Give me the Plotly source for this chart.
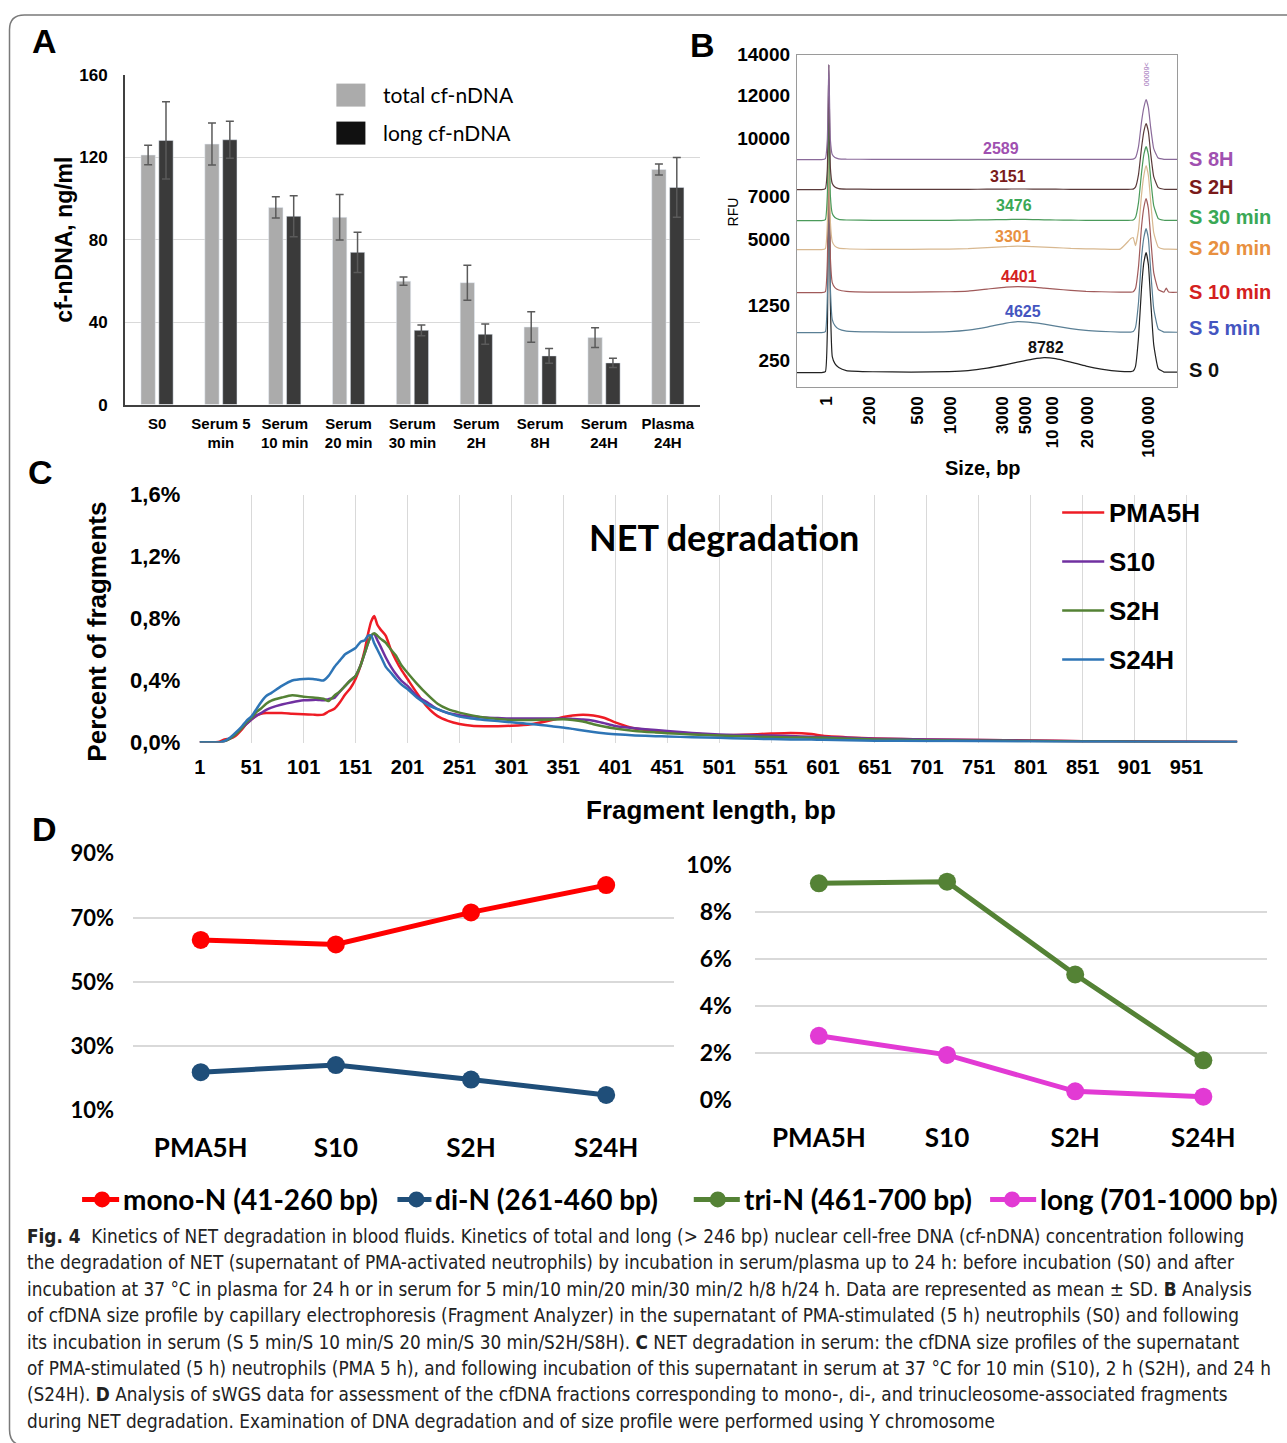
import plotly.graph_objects as go

W, H = 1287, 1443

ARIAL = "Liberation Sans, Arial, sans-serif"
CALIBRI = "Lato, Carlito, Calibri, sans-serif"
NARROW = "Liberation Sans Narrow, Arial Narrow, DejaVu Sans Condensed, sans-serif"

# page placement correction (layout pixel -> displayed pixel is  a * p + b)
X_SCALE, X_SHIFT = 0.995, 6.0
Y_SCALE, Y_SHIFT = 0.9814, 14.4


def lay_x(x):
    return (x - X_SHIFT) / X_SCALE


def lay_y(y):
    return (y - Y_SHIFT) / Y_SCALE


def px_x(x):
    return lay_x(x) / W


def px_y(y):
    return 1 - lay_y(y) / H


def dom_x(a, b):
    return [px_x(a), px_x(b)]


def dom_y(top, bottom):
    return [px_y(bottom), px_y(top)]


# ---------------- Panel A: cf-nDNA concentrations ----------------
a_categories = ["S0", "Serum 5<br>min", "Serum<br>10 min", "Serum<br>20 min", "Serum<br>30 min",
                "Serum<br>2H", "Serum<br>8H", "Serum<br>24H", "Plasma<br>24H"]
a_total = [121.0, 126.3, 95.6, 90.8, 59.8, 59.1, 37.6, 32.5, 114.0]
a_total_sd = [4.7, 10.2, 5.2, 11.0, 2.0, 8.5, 7.4, 4.8, 2.7]
a_long = [128.1, 128.4, 91.3, 73.8, 36.0, 34.1, 23.6, 20.2, 105.3]
a_long_sd = [18.7, 9.0, 9.9, 9.8, 2.6, 4.9, 3.6, 2.2, 14.5]
a_series = ["total cf-nDNA", "long cf-nDNA"]
a_ticks = [0, 40, 80, 120, 160]

# ---------------- Panel B: capillary electrophoresis traces ----------------
b_tick_pos = [7.9, 19.2, 31.8, 40.3, 54.0, 60.0, 67.1, 76.3, 92.4]
b_tick_text = ["1", "200", "500", "1000", "3000", "5000", "10 000", "20 000", "100 000"]
b_rfu_pos = [26, 81, 147, 190, 248, 291, 332]
b_rfu_text = ["250", "1250", "5000", "7000", "10000", "12000", "14000"]
b_pos = [0, 6.5, 7.5, 8.0, 8.4, 8.8, 9.3, 10, 11, 13, 20, 30, 40, 45, 50, 55, 58, 62, 65, 68, 72,
         76, 80, 85, 87.8, 88.4, 89.0, 89.8, 90.6, 91.2, 91.8, 92.4, 93.0, 93.8, 95, 96.5, 97.1,
         97.7, 100]
b_names = ["S 0", "S 5 min", "S 10 min", "S 20 min", "S 30 min", "S 2H", "S 8H"]
b_offset = [14, 54, 94, 137, 166, 197, 227]
b_signal = [
    [0, 0, 1, 40, 230, 70, 16, 9, 5, 2, 0.8, 0.5, 1, 2, 4.5, 8, 10.5, 13.5, 15, 14, 10.5, 6.5, 3.5,
     1.2, 1, 1.5, 6, 35, 85, 110, 120, 108, 72, 28, 4, 0.5, 0.5, 0.5, 0.5],
    [0, 0, 1, 35, 165, 45, 13, 7, 3.5, 1.5, 0.6, 0.5, 1, 2.5, 5.5, 9.5, 11, 10, 8.5, 6.5, 4, 2.2,
     1.2, 0.5, 0.5, 1, 5, 30, 75, 95, 104, 94, 62, 24, 3.5, 0.5, 0.5, 0.5, 0.3],
    [0, 0, 1, 30, 130, 35, 10, 5, 2.5, 1.2, 0.5, 0.5, 0.8, 1.5, 3.5, 5.5, 6, 5.5, 4.5, 3.5, 2.2,
     1.2, 0.8, 0.4, 0.4, 0.8, 4, 26, 66, 85, 94, 84, 55, 20, 3, 0.5, 4.5, 0.5, 0.3],
    [0, 0, 1, 25, 105, 28, 8, 3.5, 1.5, 0.8, 0.3, 0.3, 0.5, 1, 2, 3, 3.5, 3, 2.5, 2, 1.2, 0.8, 0.5,
     0.5, 11, 12, 4, 20, 55, 74, 84, 74, 48, 17, 2.5, 0.5, 0.5, 0.5, 0.3],
    [0, 0, 1, 25, 110, 25, 7, 3, 1.2, 0.6, 0.3, 0.3, 0.3, 0.5, 0.8, 1, 1.2, 1, 0.8, 0.6, 0.4, 0.3,
     0.3, 0.3, 0.3, 0.5, 3, 18, 48, 66, 74, 66, 42, 15, 2, 0.3, 0.3, 0.3, 0.3],
    [0, 0, 1, 20, 125, 22, 6, 2.5, 1, 0.5, 0.3, 0.3, 0.3, 0.3, 0.4, 0.5, 0.6, 0.5, 0.4, 0.4, 0.3,
     0.3, 0.3, 0.3, 0.3, 0.5, 2.5, 15, 42, 58, 66, 58, 36, 13, 2, 0.3, 0.3, 0.3, 0.3],
    [0, 0, 1, 20, 95, 20, 5, 2, 0.8, 0.4, 0.3, 0.3, 0.3, 0.3, 0.3, 0.3, 0.3, 0.3, 0.3, 0.3, 0.3,
     0.3, 0.3, 0.3, 0.3, 0.5, 2, 13, 38, 52, 60, 52, 32, 11, 1.5, 0.3, 0.3, 0.3, 0.3],
]
b_line_colors = ["#222222", "#5a7f95", "#a05a5a", "#d8b890", "#4a9a5a", "#5a3a3a", "#8a6a9a"]
b_label_colors = ["#111111", "#4455c0", "#d42020", "#e89040", "#3aa856", "#7a1a1a", "#a050b0"]
b_peak_size = ["8782", "4625", "4401", "3301", "3476", "3151", "2589"]
b_peak_x = [65.5, 59.5, 58.4, 56.8, 57.1, 55.5, 53.7]
b_peak_y = [39, 75, 110, 150, 181, 210, 238]
b_name_y = [17, 59, 95, 139, 170, 200, 228]
b_upper_marker = ">60000"

# ---------------- Panel C: fragment size profiles ----------------
c_bp = [1, 10, 20, 25, 30, 35, 41, 46, 51, 56, 60, 65, 70, 80, 90, 101, 110, 115, 120, 125, 131,
        136, 141, 146, 151, 156, 160, 163, 166, 169, 172, 175, 180, 185, 190, 195, 201, 210, 220,
        230, 240, 251, 263, 275, 288, 301, 320, 340, 351, 360, 370, 380, 390, 401, 420, 440, 451,
        475, 501, 525, 551, 570, 590, 601, 625, 651, 700, 751, 801, 851, 901, 951, 1000]
c_names = ["PMA5H", "S10", "S2H", "S24H"]
c_colors = ["#ee1c25", "#7030a0", "#548235", "#2e75b6"]
c_pma5h = [0, 0, 0.005, 0.02, 0.025, 0.04, 0.08, 0.12, 0.15, 0.175, 0.185, 0.19, 0.19, 0.19,
           0.186, 0.182, 0.18, 0.178, 0.18, 0.2, 0.22, 0.26, 0.31, 0.35, 0.41, 0.5, 0.6, 0.7,
           0.78, 0.816, 0.76, 0.73, 0.69, 0.6, 0.53, 0.47, 0.41, 0.32, 0.23, 0.17, 0.14, 0.12,
           0.108, 0.105, 0.105, 0.108, 0.118, 0.145, 0.165, 0.175, 0.18, 0.175, 0.16, 0.13, 0.09,
           0.075, 0.068, 0.058, 0.047, 0.05, 0.058, 0.062, 0.055, 0.043, 0.033, 0.026, 0.02,
           0.017, 0.013, 0.009, 0.006, 0.005, 0.004]
c_s10 = [0, 0, 0, 0.01, 0.025, 0.05, 0.09, 0.12, 0.15, 0.175, 0.19, 0.21, 0.225, 0.245, 0.26,
         0.272, 0.275, 0.275, 0.272, 0.28, 0.29, 0.33, 0.365, 0.4, 0.43, 0.5, 0.58, 0.64, 0.69,
         0.70, 0.66, 0.62, 0.55, 0.49, 0.44, 0.40, 0.365, 0.30, 0.26, 0.215, 0.19, 0.176, 0.168,
         0.161, 0.158, 0.155, 0.155, 0.155, 0.155, 0.152, 0.148, 0.14, 0.125, 0.107, 0.092, 0.08,
         0.075, 0.062, 0.052, 0.048, 0.045, 0.042, 0.037, 0.035, 0.03, 0.025, 0.02, 0.016, 0.012,
         0.008, 0.006, 0.005, 0.004]
c_s2h = [0, 0, 0, 0.01, 0.025, 0.05, 0.09, 0.13, 0.16, 0.2, 0.22, 0.25, 0.27, 0.29, 0.305, 0.296,
         0.29, 0.288, 0.283, 0.268, 0.305, 0.33, 0.365, 0.4, 0.43, 0.5, 0.58, 0.64, 0.69, 0.705,
         0.69, 0.67, 0.645, 0.6, 0.56, 0.5, 0.45, 0.38, 0.31, 0.25, 0.215, 0.193, 0.175, 0.161,
         0.152, 0.146, 0.146, 0.148, 0.15, 0.145, 0.135, 0.118, 0.103, 0.09, 0.075, 0.065, 0.06,
         0.052, 0.045, 0.04, 0.035, 0.033, 0.031, 0.03, 0.025, 0.02, 0.015, 0.012, 0.01, 0.007,
         0.005, 0.004, 0.003]
c_s24h = [0, 0, 0, 0.01, 0.03, 0.06, 0.1, 0.14, 0.17, 0.22, 0.26, 0.3, 0.32, 0.365, 0.40, 0.41,
          0.41, 0.405, 0.40, 0.43, 0.49, 0.53, 0.57, 0.59, 0.61, 0.65, 0.66, 0.69, 0.69, 0.64, 0.6,
          0.56, 0.49, 0.45, 0.41, 0.375, 0.345, 0.29, 0.245, 0.215, 0.19, 0.167, 0.155, 0.146,
          0.138, 0.13, 0.12, 0.105, 0.097, 0.088, 0.078, 0.068, 0.06, 0.054, 0.046, 0.041, 0.039,
          0.034, 0.03, 0.026, 0.022, 0.02, 0.019, 0.018, 0.015, 0.012, 0.01, 0.008, 0.006, 0.005,
          0.004, 0.003, 0.003]
c_series = [c_pma5h, c_s10, c_s2h, c_s24h]
c_xticks = list(range(1, 1000, 50))
c_yticks = [0, 0.4, 0.8, 1.2, 1.6]
c_ytext = ["0,0%", "0,4%", "0,8%", "1,2%", "1,6%"]

# ---------------- Panel D: nucleosome fractions ----------------
d_samples = ["PMA5H", "S10", "S2H", "S24H"]
d_mono = [63.1, 61.7, 71.7, 80.2]
d_di = [21.9, 24.1, 19.6, 14.8]
d_tri = [9.22, 9.29, 5.34, 1.69]
d_long = [2.73, 1.92, 0.37, 0.14]
d_names = ["mono-N (41-260 bp)", "di-N (261-460 bp)", "tri-N (461-700 bp)", "long (701-1000 bp)"]
d_colors = ["#ff0000", "#1f4e79", "#548235", "#e23ad4"]
d_left_ticks = [10, 30, 50, 70, 90]
d_right_ticks = [0, 2, 4, 6, 8, 10]

fig = go.Figure()

# A bars
fig.add_trace(go.Bar(x=a_categories, y=a_total, name=a_series[0], marker_color="#ababab",
                     error_y=dict(type="data", array=a_total_sd, color="#5a5a5a", thickness=1.5, width=4),
                     xaxis="x", yaxis="y", showlegend=False))
fig.add_trace(go.Bar(x=a_categories, y=a_long, name=a_series[1], marker_color="#3a3a3a",
                     error_y=dict(type="data", array=a_long_sd, color="#5a5a5a", thickness=1.5, width=4),
                     xaxis="x", yaxis="y", showlegend=False))

# B traces, stacked by offset
for name, off, sig, col in zip(b_names, b_offset, b_signal, b_line_colors):
    fig.add_trace(go.Scatter(x=b_pos, y=[off + v for v in sig], mode="lines", name=name,
                             line=dict(color=col, width=1.2, shape="spline", smoothing=0.4),
                             xaxis="x2", yaxis="y2", showlegend=False))

# C curves
for name, vals, col in zip(c_names, c_series, c_colors):
    fig.add_trace(go.Scatter(x=c_bp, y=vals, mode="lines", name=name,
                             line=dict(color=col, width=2.5, shape="spline", smoothing=0.6),
                             xaxis="x3", yaxis="y3", showlegend=False))

# D lines
for vals, name, col, ax in [(d_mono, d_names[0], d_colors[0], "4"), (d_di, d_names[1], d_colors[1], "4"),
                            (d_tri, d_names[2], d_colors[2], "5"), (d_long, d_names[3], d_colors[3], "5")]:
    fig.add_trace(go.Scatter(x=d_samples, y=vals, mode="lines+markers", name=name,
                             line=dict(color=col, width=5), marker=dict(color=col, size=18),
                             cliponaxis=False, xaxis="x" + ax, yaxis="y" + ax, showlegend=False))

bold_arial = lambda s: dict(family=ARIAL, size=s, color="black", weight="bold")
bold_cal = lambda s: dict(family=CALIBRI, size=s, color="black", weight="bold")

fig.update_layout(
    width=W, height=H, margin=dict(l=0, r=0, t=0, b=0),
    paper_bgcolor="white", plot_bgcolor="rgba(0,0,0,0)",
    barmode="group", bargap=0.44, bargroupgap=0.2,
    xaxis=dict(domain=dom_x(126, 700), anchor="y", type="category", showline=True,
               linecolor="#404040", linewidth=2, showgrid=False, tickfont=bold_arial(15),
               ticklabelstandoff=4, range=[-0.5, 8.5]),
    yaxis=dict(domain=dom_y(75, 405), anchor="x", range=[0, 160], tickvals=a_ticks,
               showgrid=True, gridcolor="#d9d9d9", gridwidth=1, showline=True, linecolor="#404040",
               linewidth=2, zeroline=False, tickfont=bold_arial(17), ticklabelstandoff=12),
    xaxis2=dict(domain=dom_x(797, 1177), anchor="y2", range=[0, 100], tickvals=b_tick_pos,
                ticktext=b_tick_text, tickangle=-90, tickfont=bold_arial(17), showgrid=False,
                zeroline=False, showline=True, mirror=True, linecolor="#9a9a9a", linewidth=1,
                ticklabelstandoff=2),
    yaxis2=dict(domain=dom_y(55, 387), anchor="x2", range=[0, 332], tickvals=b_rfu_pos,
                ticktext=b_rfu_text, tickfont=bold_arial(19), showgrid=False, zeroline=False,
                showline=True, mirror=True, linecolor="#9a9a9a", linewidth=1, ticklabelstandoff=2),
    xaxis3=dict(domain=dom_x(200, 1237), anchor="y3", range=[0.5, 1000], tickvals=c_xticks,
                showgrid=True, gridcolor="#d9d9d9", gridwidth=1, zeroline=False, showline=False,
                tickfont=bold_arial(20), ticklabelstandoff=10),
    yaxis3=dict(domain=dom_y(495, 743), anchor="x3", range=[0, 1.6], tickvals=c_yticks,
                ticktext=c_ytext, showgrid=False, zeroline=False, showline=False,
                tickfont=bold_arial(22), ticklabelstandoff=18),
    xaxis4=dict(domain=dom_x(134, 674), anchor="y4", type="category", range=[-0.5, 3.5],
                showgrid=False, showline=False, zeroline=False, tickfont=bold_cal(26),
                ticklabelstandoff=20),
    yaxis4=dict(domain=dom_y(854, 1111), anchor="x4", range=[9.95, 90.05], tickvals=d_left_ticks,
                ticktext=[f"{v}%" for v in d_left_ticks], showgrid=True, gridcolor="#d9d9d9",
                gridwidth=1.5, zeroline=False, showline=False, tickfont=bold_cal(22),
                ticklabelstandoff=18),
    xaxis5=dict(domain=dom_x(755, 1267), anchor="y5", type="category", range=[-0.5, 3.5],
                showgrid=False, showline=False, zeroline=False, tickfont=bold_cal(26),
                ticklabelstandoff=20),
    yaxis5=dict(domain=dom_y(865, 1101), anchor="x5", range=[-0.02, 10.02], tickvals=d_right_ticks,
                ticktext=[f"{v}%" for v in d_right_ticks], showgrid=True, gridcolor="#d9d9d9",
                gridwidth=1.5, zeroline=False, showline=False, tickfont=bold_cal(23),
                ticklabelstandoff=22),
)

shapes = []
annotations = []


def ann(text, x, y, size, color="black", family=ARIAL, weight="normal", xanchor="center",
        yanchor="middle", angle=0, **kw):
    annotations.append(dict(text=text, x=px_x(x), y=px_y(y), xref="paper", yref="paper",
                            showarrow=False, xanchor=xanchor, yanchor=yanchor, textangle=angle,
                            font=dict(family=family, size=size, color=color, weight=weight), **kw))


# outer rounded frame (top edge kept just inside the canvas)
top = min(px_y(10.5), 1 - 1.0 / H)
left = px_x(10.5)
r = 15.0 / W
rv = 15.0 / H
shapes.append(dict(type="path", xref="paper", yref="paper",
                   path=(f"M 1.01,{top} L {left + r},{top} "
                         f"Q {left},{top} {left},{top - rv} "
                         f"L {left},{px_y(1430)} Q {left},{px_y(1446)} {left + r},{px_y(1446)}"),
                   line=dict(color="#7a7a7a", width=1.5)))

# panel letters
for letter, x, y in [("A", 45, 41), ("B", 703, 45), ("C", 41, 472), ("D", 45, 829)]:
    ann(letter, x, y, 34, weight="bold")

# A legend and title
for i, (name, col) in enumerate(zip(a_series, ["#ababab", "#111111"])):
    ytop = 84 + i * 38
    shapes.append(dict(type="rect", xref="paper", yref="paper", x0=px_x(337), x1=px_x(366),
                       y0=px_y(ytop), y1=px_y(ytop + 23), fillcolor=col, line=dict(width=0)))
    ann(name, 382, ytop + 11, 21, family=CALIBRI, xanchor="left")
ann("cf-nDNA, ng/ml", 65, 240, 23, weight="bold", angle=-90)

# B labels
for name, col, size_txt, px_, py_, ny in zip(b_names, b_label_colors, b_peak_size,
                                             b_peak_x, b_peak_y, b_name_y):
    annotations.append(dict(text=size_txt, x=px_, y=py_, xref="x2", yref="y2", showarrow=False,
                            font=dict(family=ARIAL, size=16, color=col, weight="bold")))
    annotations.append(dict(text=name, x=px_x(1187), y=ny, xref="paper", yref="y2", showarrow=False,
                            xanchor="left", font=dict(family=ARIAL, size=20, color=col, weight="bold")))
# tiny size tag printed above the upper marker peak
annotations.append(dict(text=b_upper_marker, x=91.8, y=312, xref="x2", yref="y2", showarrow=False,
                        textangle=90, font=dict(family=ARIAL, size=7, color="#a070b8")))
ann("RFU", 733, 212, 14, angle=-90)
ann("Size, bp", 983, 468, 20, weight="bold")

# C title, legend and axis titles
ann("NET degradation", 724, 537, 36, family=CALIBRI, weight="bold")
for i, (name, col) in enumerate(zip(c_names, c_colors)):
    y = 513 + i * 49
    shapes.append(dict(type="line", xref="paper", yref="paper", x0=px_x(1062), x1=px_x(1104),
                       y0=px_y(y), y1=px_y(y), line=dict(color=col, width=2.5)))
    ann(name, 1107, y, 26, weight="bold", xanchor="left")
ann("Percent of fragments", 97, 632, 26, weight="bold", angle=-90)
ann("Fragment length, bp", 711, 810, 26, weight="bold")

# D legend
for name, col, x0, x1, xm in zip(d_names, d_colors, [83, 398, 694, 990], [120, 432, 740, 1036],
                                 [103, 417, 718, 1012]):
    y = 1200
    shapes.append(dict(type="line", xref="paper", yref="paper", x0=px_x(x0), x1=px_x(x1),
                       y0=px_y(y), y1=px_y(y), line=dict(color=col, width=5)))
    shapes.append(dict(type="circle", xref="paper", yref="paper", x0=px_x(xm - 8), x1=px_x(xm + 8),
                       y0=px_y(y - 8), y1=px_y(y + 8), fillcolor=col, line=dict(width=0)))
    ann(name, x1 + 2, y, 28, family=CALIBRI, weight="bold", xanchor="left")

# caption
caption = [
    "<b>Fig. 4</b>  Kinetics of NET degradation in blood fluids. Kinetics of total and long (> 246 bp) nuclear cell-free DNA (cf-nDNA) concentration following",
    "the degradation of NET (supernatant of PMA-activated neutrophils) by incubation in serum/plasma up to 24 h: before incubation (S0) and after",
    "incubation at 37 °C in plasma for 24 h or in serum for 5 min/10 min/20 min/30 min/2 h/8 h/24 h. Data are represented as mean ± SD. <b>B</b> Analysis",
    "of cfDNA size profile by capillary electrophoresis (Fragment Analyzer) in the supernatant of PMA-stimulated (5 h) neutrophils (S0) and following",
    "its incubation in serum (S 5 min/S 10 min/S 20 min/S 30 min/S2H/S8H). <b>C</b> NET degradation in serum: the cfDNA size profiles of the supernatant",
    "of PMA-stimulated (5 h) neutrophils (PMA 5 h), and following incubation of this supernatant in serum at 37 °C for 10 min (S10), 2 h (S2H), and 24 h",
    "(S24H). <b>D</b> Analysis of sWGS data for assessment of the cfDNA fractions corresponding to mono-, di-, and trinucleosome-associated fragments",
    "during NET degradation. Examination of DNA degradation and of size profile were performed using Y chromosome",
]
for i, line in enumerate(caption):
    ann(line, 26, 1237 + i * 26.4, 18.8, color="#222222", family=NARROW, xanchor="left")

fig.update_layout(shapes=shapes, annotations=annotations)

fig.write_html("out.html",
               post_script="document.body.style.margin='0';document.body.style.overflow='hidden';")
